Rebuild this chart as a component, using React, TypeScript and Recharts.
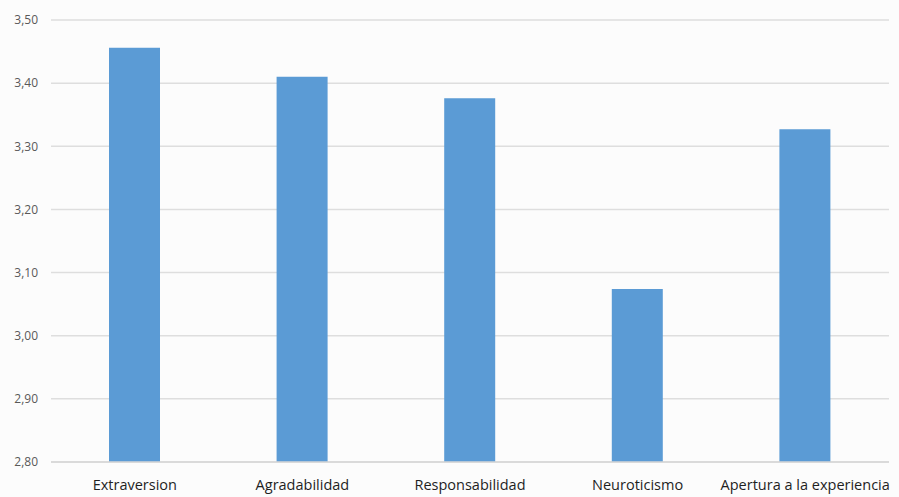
import React from 'react'
import { BarChart, Bar, XAxis, YAxis, CartesianGrid } from 'recharts'

const categories = ['Extraversion', 'Agradabilidad', 'Responsabilidad', 'Neuroticismo', 'Apertura a la experiencia']
const values = [3.456, 3.41, 3.376, 3.074, 3.327]
const yTicks = [2.8, 2.9, 3.0, 3.1, 3.2, 3.3, 3.4, 3.5]

const data = categories.map((name, i) => ({ name, value: values[i] }))

const fmt = (v: number) => v.toFixed(2).replace('.', ',')

const App: React.FC = () => {
    return (
        <div style={{ position: 'absolute', left: 0, top: 0, background: '#fcfcfc' }}>
            <BarChart
                width={899}
                height={497}
                data={data}
                margin={{ top: 20, right: 10, left: 0, bottom: 0 }}
                style={{ fontFamily: "'Open Sans', sans-serif" }}
            >
                <CartesianGrid vertical={false} stroke='#dedede' strokeWidth={1.5} />
                <XAxis
                    dataKey='name'
                    height={35}
                    axisLine={{ stroke: '#d6d6d6', strokeWidth: 1.5 }}
                    tickLine={false}
                    tickMargin={12}
                    tick={{ fill: '#1f1f1f', fontSize: 14.5 }}
                    interval={0}
                />
                <YAxis
                    width={51}
                    domain={[2.8, 3.5]}
                    ticks={yTicks}
                    tickFormatter={fmt}
                    axisLine={false}
                    tickLine={false}
                    tickMargin={7}
                    tick={{ fill: '#595959', fontSize: 12 }}
                    allowDataOverflow
                />
                <Bar dataKey='value' fill='#5b9bd5' barSize={51} isAnimationActive={false} />
            </BarChart>
        </div>
    )
}

export default App
